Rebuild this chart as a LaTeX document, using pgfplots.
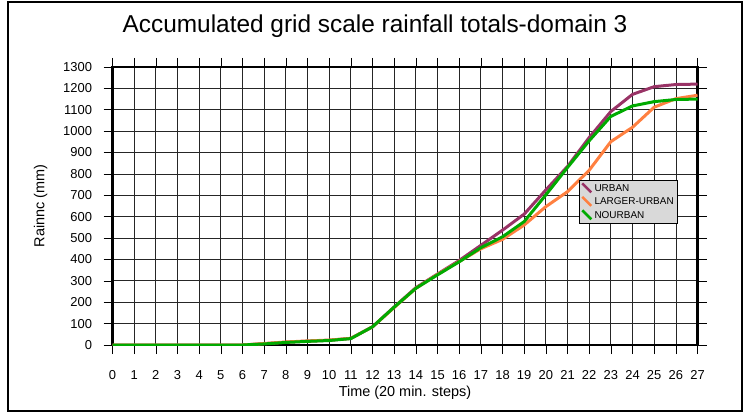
\documentclass[border=0pt]{standalone}
\usepackage{fontspec}
\setmainfont{Liberation Sans}
\usepackage{pgfplots}
\pgfplotsset{compat=1.18}
\definecolor{urban}{RGB}{153,51,102}
\definecolor{larger}{RGB}{255,128,64}
\definecolor{nourban}{RGB}{0,170,0}
\begin{document}
\begin{tikzpicture}[x=1bp,y=1bp]
\path[use as bounding box] (0,0) rectangle (750,414);
\draw[line width=1.5bp] (8,3) rectangle (742,412);
\node[anchor=center] at (375,388) {\fontsize{24.5}{28}\selectfont Accumulated grid scale rainfall totals-domain 3};
\begin{axis}[
  at={(112.5bp,69bp)}, anchor=south west,
  width=585bp, height=278bp, scale only axis,
  xmin=0, xmax=27, ymin=0, ymax=1300,
  xtick={0,1,...,27}, ytick={0,100,...,1300},
  grid=major,
  major grid style={black!85, line width=0.7bp},
  axis line style={line width=2.5bp},
  tick align=outside, major tick length=9bp,
  tick style={black, line width=0.6bp},
  /pgf/number format/assume math mode=true,
  /pgf/number format/1000 sep={},
  ticklabel style={font=\fontsize{13}{15}\selectfont},
  xticklabel style={yshift=-13bp},
  yticklabel style={xshift=-8bp},
  xlabel={Time (20 min. steps)},
  ylabel={Rainnc (mm)},
  label style={font=\fontsize{14.5}{16}\selectfont},
  xlabel style={yshift=1bp},
  ylabel style={yshift=9bp},
  legend style={at={(0.797,0.594)}, anchor=north west, fill=black!15, draw=black, line width=0.6bp,
    font=\fontsize{10}{12}\selectfont, inner sep=2bp, row sep=1bp},
  legend cell align=left,
  legend image code/.code={\draw[#1, line width=2.5bp] (0bp,5bp) -- (9bp,-4bp);},
]
\addplot[urban, line width=3bp] coordinates {
(0,0)(1,0)(2,0)(3,0)(4,0)(5,0)(6,0)(7,6)(8,13)(9,18)(10,22)(11,31)(12,85)(13,178)(14,268)(15,332)(16,395)(17,466)(18,537)(19,612)(20,725)(21,835)(22,970)(23,1092)(24,1172)(25,1208)(26,1218)(27,1220)};
\addplot[larger, line width=3bp] coordinates {
(0,0)(1,0)(2,0)(3,0)(4,0)(5,0)(6,0)(7,7)(8,14)(9,19)(10,23)(11,31)(12,85)(13,175)(14,265)(15,330)(16,390)(17,450)(18,494)(19,561)(20,647)(21,717)(22,817)(23,951)(24,1018)(25,1112)(26,1152)(27,1168)};
\addplot[nourban, line width=3bp] coordinates {
(0,0)(1,0)(2,0)(3,0)(4,0)(5,0)(6,0)(7,5)(8,12)(9,17)(10,21)(11,30)(12,85)(13,177)(14,265)(15,328)(16,389)(17,455)(18,506)(19,577)(20,702)(21,830)(22,955)(23,1069)(24,1118)(25,1138)(26,1148)(27,1150)};
\legend{URBAN, LARGER-URBAN, NOURBAN}
\end{axis}
\end{tikzpicture}
\end{document}
